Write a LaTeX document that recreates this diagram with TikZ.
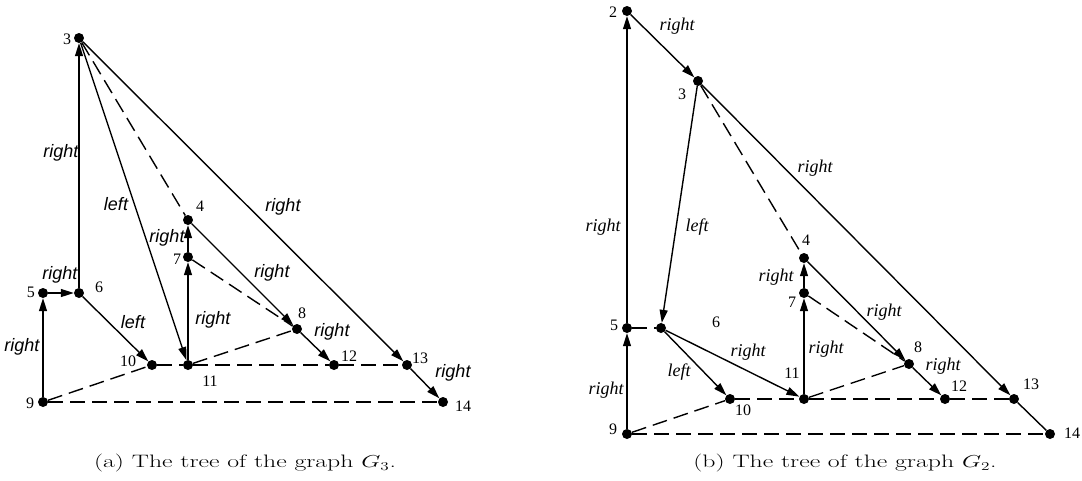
\documentclass[tikz,border=0pt]{standalone}
\usepackage{fontspec}
\usetikzlibrary{arrows.meta}
\newfontfamily\numfont{Liberation Serif}
\newfontfamily\lblsans{Liberation Sans}
\begin{document}
\begin{tikzpicture}[x=1pt,y=-1pt,
 dot/.style={circle, fill=black, inner sep=0pt, minimum size=10pt},
 arr/.style={line width=1.4pt, -{Triangle[length=13pt,width=8pt]}},
 ln/.style={line width=1.4pt},
 dsh/.style={line width=1.4pt, dash pattern=on 15pt off 7pt},
 num/.style={font=\numfont\fontsize{16}{16}\selectfont, inner sep=0pt},
 lsa/.style={font=\lblsans\itshape\fontsize{18}{18}\selectfont, inner sep=0pt},
 lsb/.style={font=\numfont\itshape\fontsize{18}{18}\selectfont, inner sep=0pt},
 captxt/.style={font=\fontsize{18}{20}\selectfont, inner sep=0pt}]
\useasboundingbox (0,0) rectangle (1082,480);
% ---------------- (a) ----------------
\node[dot] (a3) at (79,38) {};
\node[dot] (a4) at (188,220) {};
\node[dot] (a7) at (188,257) {};
\node[dot] (a5) at (43,293) {};
\node[dot] (a6) at (79,293) {};
\node[dot] (a8) at (297,329) {};
\node[dot] (a10) at (152,365) {};
\node[dot] (a11) at (188,365) {};
\node[dot] (a12) at (334,365) {};
\node[dot] (a13) at (407,365) {};
\node[dot] (a9) at (43,402) {};
\node[dot] (a14) at (443,402) {};
\node[num] (la3) at (67,39) {3};
\node[num] (la4) at (200,206) {4};
\node[num] (la7) at (177,259) {7};
\node[num] (la5) at (31,292) {5};
\node[num] (la6) at (99,287) {6};
\node[num] (la10) at (128,361) {10};
\node[num] (la11) at (210,381) {11};
\node[num] (la9) at (30,403) {9};
\node[num] (la8) at (302,313) {8};
\node[num] (la12) at (349,356) {12};
\node[num] (la13) at (420,358) {13};
\node[num] (la14) at (463,406) {14};
\draw[arr] (a6) -- (a3);
\draw[arr] (a5) -- (a6);
\draw[arr] (a9) -- (a5);
\draw[arr] (a6) -- (a10);
\draw[arr] (a3) -- (a11);
\draw[arr] (a3) -- (a13);
\draw[arr] (a13) -- (a14);
\draw[arr] (a11) -- (a7);
\draw[arr] (a7) -- (a4);
\draw[arr] (a4) -- (a8);
\draw[arr] (a8) -- (a12);
\draw[dsh] (a3) -- (a4);
\draw[dsh] (a7) -- (a8);
\draw[dsh] (a11) -- (a8);
\draw[dsh] (a10) -- (a11);
\draw[dsh] (a11) -- (a12);
\draw[dsh] (a12) -- (a13);
\draw[dsh] (a9) -- (a10);
\draw[dsh] (a9) -- (a14);
\node[lsa] (ea1) at (61,153) {right};
\node[lsa] (ea2) at (60,275) {right};
\node[lsa] (ea3) at (22,347) {right};
\node[lsa] (ea4) at (133,322) {left};
\node[lsa] (ea5) at (116,204) {left};
\node[lsa] (ea6) at (283,207) {right};
\node[lsa] (ea7) at (453,373) {right};
\node[lsa] (ea8) at (213,320) {right};
\node[lsa] (ea9) at (167,238) {right};
\node[lsa] (ea10) at (272,273) {right};
\node[lsa] (ea11) at (332,332) {right};
\node[captxt] (capa) at (245,463) {\scalebox{1.43}[1]{(a) The tree of the graph $G_3$.}};
% ---------------- (b) ----------------
\node[dot] (b2) at (627,11) {};
\node[dot] (b3) at (698,81) {};
\node[dot] (b4) at (804,258) {};
\node[dot] (b7) at (804,293) {};
\node[dot] (b5) at (627,328) {};
\node[dot] (b6) at (661,328) {};
\node[dot] (b8) at (909,364) {};
\node[dot] (b10) at (730,399) {};
\node[dot] (b11) at (804,399) {};
\node[dot] (b12) at (945,399) {};
\node[dot] (b13) at (1014,399) {};
\node[dot] (b9) at (627,434) {};
\node[dot] (b14) at (1050,434) {};
\node[num] (lb2) at (613,12) {2};
\node[num] (lb3) at (682,94) {3};
\node[num] (lb4) at (806,240) {4};
\node[num] (lb7) at (792,302) {7};
\node[num] (lb5) at (614,325) {5};
\node[num] (lb6) at (716,322) {6};
\node[num] (lb11) at (792,373) {11};
\node[num] (lb10) at (743,410) {10};
\node[num] (lb9) at (613,429) {9};
\node[num] (lb8) at (918,347) {8};
\node[num] (lb12) at (959,386) {12};
\node[num] (lb13) at (1031,384) {13};
\node[num] (lb14) at (1072,433) {14};
\draw[arr] (b9) -- (b5);
\draw[arr] (b5) -- (b2);
\draw[arr] (b2) -- (b3);
\draw[arr] (b3) -- (b6);
\draw[arr] (b6) -- (b10);
\draw[arr] (b6) -- (b11);
\draw[arr] (b3) -- (b13);
\draw[ln] (b13) -- (b14);
\draw[arr] (b11) -- (b7);
\draw[arr] (b7) -- (b4);
\draw[arr] (b4) -- (b8);
\draw[arr] (b8) -- (b12);
\draw[dsh] (b5) -- (b6);
\draw[dsh] (b3) -- (b4);
\draw[dsh] (b7) -- (b8);
\draw[dsh] (b11) -- (b8);
\draw[dsh] (b10) -- (b11);
\draw[dsh] (b11) -- (b12);
\draw[dsh] (b12) -- (b13);
\draw[dsh] (b9) -- (b10);
\draw[dsh] (b9) -- (b14);
\node[lsb] (eb1) at (677,26) {right};
\node[lsb] (eb2) at (603,227) {right};
\node[lsb] (eb3) at (697,227) {left};
\node[lsb] (eb4) at (815,168) {right};
\node[lsb] (eb5) at (776,277) {right};
\node[lsb] (eb6) at (748,352) {right};
\node[lsb] (eb7) at (679,372) {left};
\node[lsb] (eb8) at (606,390) {right};
\node[lsb] (eb9) at (826,349) {right};
\node[lsb] (eb10) at (884,312) {right};
\node[lsb] (eb11) at (943,366) {right};
\node[captxt] (capb) at (845,463) {\scalebox{1.43}[1]{(b) The tree of the graph $G_2$.}};
\end{tikzpicture}
\end{document}
